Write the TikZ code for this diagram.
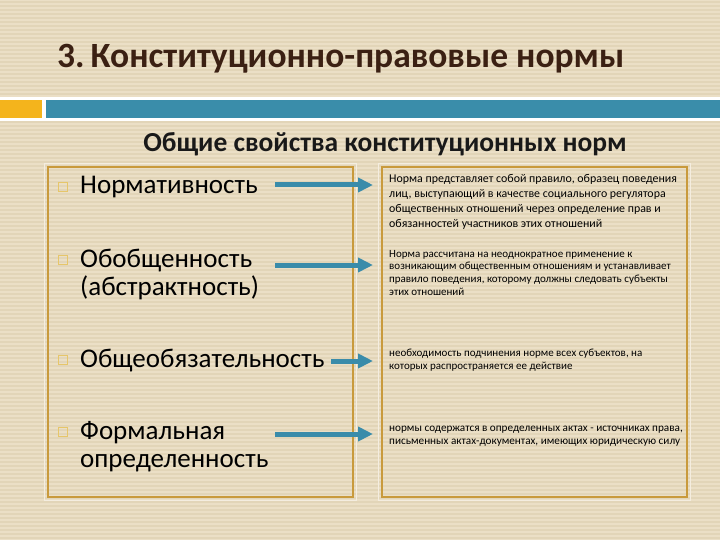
\documentclass[tikz,border=0pt]{standalone}
\usepackage{fontspec}
\setmainfont{Carlito}
\usetikzlibrary{arrows.meta}
\definecolor{bg}{HTML}{EBDFC6}
\definecolor{stripe}{HTML}{E2D5B8}
\definecolor{bandteal}{HTML}{3A8DAA}
\definecolor{arrteal}{HTML}{3A8CAA}
\definecolor{orng}{HTML}{F4B41C}
\definecolor{gold}{HTML}{C99A3C}
\definecolor{titlec}{HTML}{3B2013}
\definecolor{bulletc}{HTML}{E6C66A}
\tikzset{
  titletext/.style={anchor=base west, inner sep=0, text=titlec, font=\fontsize{35.5}{40}\selectfont\bfseries},
  subtext/.style={anchor=base, inner sep=0, text=black!90, font=\fontsize{27.5}{30}\selectfont\bfseries},
  itemtext/.style={anchor=base west, inner sep=0, align=left, text=black, font=\fontsize{27}{28.5}\selectfont},
  desc/.style={anchor=base west, inner sep=0, align=left, text=black},
  framebox/.style={draw=gold, line width=2},
  glow/.style={draw=white!45!bg, line width=1.2},
  bulletbox/.style={draw=bulletc, line width=0.8, minimum size=8.5, inner sep=0},
  conn/.style={draw=arrteal, line width=5, -{Triangle[length=15,width=14]}}
}
\begin{document}
\begin{tikzpicture}[x=1pt,y=-1pt]
\useasboundingbox (0,0) rectangle (720,540);
\fill[bg] (0,0) rectangle (720,540);
\foreach \yy in {1,5,...,537} \fill[stripe] (0,\yy) rectangle (720,\yy+1.6);
% band
\fill[white] (0,97) rectangle (720,121.5);
\fill[orng] (0,100.5) rectangle (42,118);
\fill[bandteal] (46,100.5) rectangle (720,118);
% title
\node[titletext] (title) at (57,68) {3.\kern-2pt\ Конституционно-правовые нормы};
\node[subtext] (sub) at (385,152) {Общие свойства конституционных норм};
% boxes
\draw[glow] (44.5,163.5) rectangle (356.5,500.5);
\draw[framebox] (48,167) rectangle (353,497);
\draw[glow] (378.5,163.5) rectangle (690.5,500.5);
\draw[framebox] (382,167) rectangle (687,497);
% bullets
\node[bulletbox] (b1) at (63,187) {};
\node[bulletbox] (b2) at (63,260) {};
\node[bulletbox] (b3) at (63,360) {};
\node[bulletbox] (b4) at (63,432) {};
% items (anchor = baseline of last line)
\node[itemtext] (i1) at (80,194) {Нормативность};
\node[itemtext] (i2) at (80,295.5) {Обобщенность\\(абстрактность)};
\node[itemtext] (i3) at (80,367) {Общеобязательность};
\node[itemtext] (i4) at (80,467.5) {Формальная\\определенность};
% descriptions (anchor = baseline of last line)
\node[desc, font=\fontsize{11.9}{15}\selectfont] (d1) at (389,228) {Норма представляет собой правило, образец поведения\\лиц, выступающий в качестве социального регулятора\\общественных отношений через определение прав и\\обязанностей участников этих отношений};
\node[desc, font=\fontsize{11}{12.8}\selectfont] (d2) at (389,295.5) {Норма рассчитана на неоднократное применение к\\возникающим общественным отношениям и устанавливает\\правило поведения, которому должны следовать субъекты\\этих отношений};
\node[desc, font=\fontsize{11}{13.3}\selectfont] (d3) at (389,369.3) {необходимость подчинения норме всех субъектов, на\\которых распространяется ее действие};
\node[desc, font=\fontsize{11.2}{13.3}\selectfont] (d4) at (389,444.3) {нормы содержатся в определенных актах - источниках права,\\письменных актах-документах, имеющих юридическую силу};
% connectors
\coordinate (s1) at (275,185);
\coordinate (e1) at (373,185);
\coordinate (s2) at (275,265);
\coordinate (e2) at (373,265);
\coordinate (s3) at (331,361);
\coordinate (e3) at (373,361);
\coordinate (s4) at (275,434);
\coordinate (e4) at (373,434);
\draw[conn] (s1) -- (e1);
\draw[conn] (s2) -- (e2);
\draw[conn] (s3) -- (e3);
\draw[conn] (s4) -- (e4);
\end{tikzpicture}
\end{document}
